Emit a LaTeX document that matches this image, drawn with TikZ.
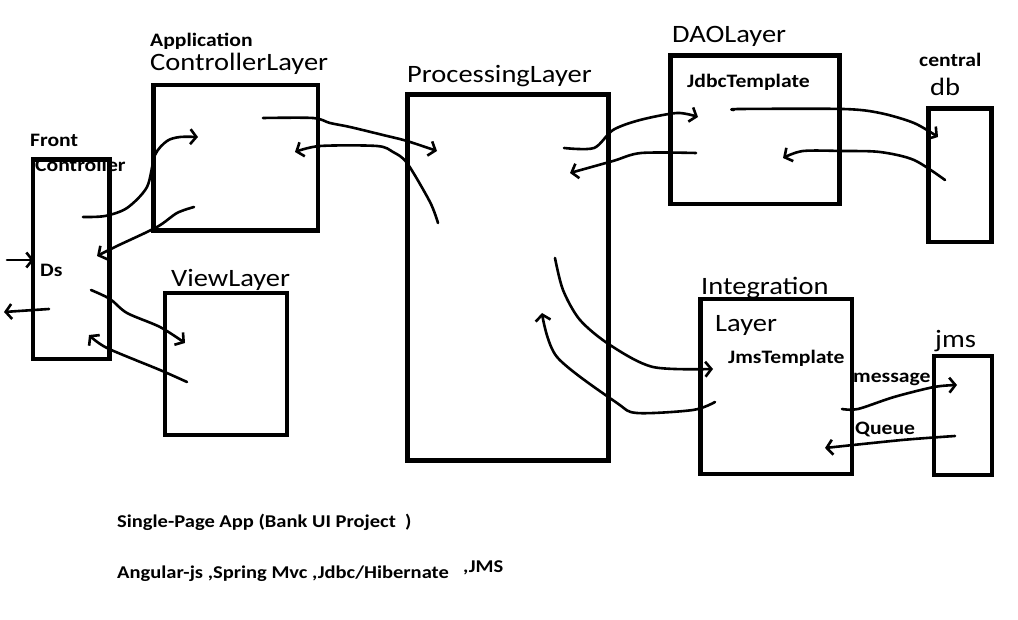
\documentclass[tikz,border=0pt]{standalone}
\usepackage{fontspec}
\setmainfont{Carlito}[FakeStretch=1.14]
\usetikzlibrary{arrows.meta,fit}
\begin{document}
\begin{tikzpicture}[x=1pt,y=-1pt,
  box/.style={draw,line width=4.6pt,inner sep=0pt},
  big/.style={font=\fontsize{25}{29}\selectfont,inner sep=0pt,anchor=base west},
  small/.style={font=\bfseries\fontsize{19}{22}\selectfont,inner sep=0pt,anchor=base west},
  note/.style={font=\bfseries\fontsize{18}{21}\selectfont,inner sep=0pt,anchor=base west},
  conn/.style={line width=2.6pt,line cap=round,line join=round,-{Straight Barb[length=6pt,width=15pt]}}]
\useasboundingbox[fill=white] (0,0) rectangle (1018,620);

% boxes
\node[box,fit={(33,159.5) (109.5,359)}] (fc) {};
\node[box,fit={(153.5,85) (318,230.5)}] (acl) {};
\node[box,fit={(165,293) (287,435)}] (view) {};
\node[box,fit={(407.5,94.5) (608.5,460.5)}] (proc) {};
\node[box,fit={(670.5,55.5) (839.5,204)}] (dao) {};
\node[box,fit={(928.5,108.3) (991.5,242)}] (db) {};
\node[box,fit={(700.7,299) (852,474)}] (integ) {};
\node[box,fit={(934,356) (992,475)}] (jms) {};

% labels
\node[small] (lApp) at (150,47) {Application};
\node[big] (lCtl) at (150,71) {ControllerLayer};
\node[small] (lFront) at (30,147) {Front};
\node[small] (lFC) at (35,172) {Controller};
\node[small] (lDs) at (40,277) {Ds};
\node[big] (lView) at (171,287) {ViewLayer};
\node[big] (lProc) at (407,83) {ProcessingLayer};
\node[big] (lDao) at (672,43) {DAOLayer};
\node[small] (lJdbc) at (687,88) {JdbcTemplate};
\node[small] (lCentral) at (919,67) {central};
\node[big] (lDb) at (930,96) {db};
\node[big] (lInt) at (701,295) {Integration};
\node[big] (lLayer) at (715,332) {Layer};
\node[small] (lJmsT) at (728,363) {JmsTemplate};
\node[small] (lMsg) at (853,383) {message};
\node[small] (lQueue) at (855,435) {Queue};
\node[big] (lJms) at (935,348) {jms};
\node[note] (lSpa) at (117,527) {Single-Page App (Bank UI Project\ \ )};
\node[note] (lTech) at (117,578) {Angular-js ,Spring Mvc ,Jdbc/Hibernate};
\node[note] (lJMS) at (463,572) {,JMS};

% connector end points
\coordinate (a1s) at (83,217);   \coordinate (a1e) at (198,137);
\coordinate (a2s) at (194,207);  \coordinate (a2e) at (97,256);
\coordinate (a3s) at (91,290);   \coordinate (a3e) at (185,343);
\coordinate (a4s) at (187,382);  \coordinate (a4e) at (89,335);
\coordinate (a5s) at (7,260);    \coordinate (a5e) at (34,260);
\coordinate (a6s) at (49,309);   \coordinate (a6e) at (4,312);
\coordinate (a7s) at (263,118);  \coordinate (a7e) at (437,151);
\coordinate (a8s) at (438,223);  \coordinate (a8e) at (295,152);
\coordinate (a9s) at (564,148);  \coordinate (a9e) at (698,117);
\coordinate (a10s) at (696,153); \coordinate (a10e) at (570,173);
\coordinate (a11s) at (734,110); \coordinate (a11e) at (938,137);
\coordinate (a12s) at (945,180); \coordinate (a12e) at (783,158);
\coordinate (a13s) at (555,258); \coordinate (a13e) at (713,369);
\coordinate (a14s) at (715,402); \coordinate (a14e) at (542,313);
\coordinate (a15s) at (842,409); \coordinate (a15e) at (957,385);
\coordinate (a16s) at (955,436); \coordinate (a16e) at (825,448);

% connectors
\draw[conn] plot[smooth,tension=0.5] coordinates {(a1s) (105,216) (127,208) (147,187) (155,155) (167,141) (180,137) (a1e)};
\draw[conn] plot[smooth,tension=0.5] coordinates {(a2s) (177,213) (157,227) (117,246) (a2e)};
\draw[conn] plot[smooth,tension=0.5] coordinates {(a3s) (110,299) (127,313) (160,327) (a3e)};
\draw[conn] plot[smooth,tension=0.5] coordinates {(a4s) (160,370) (107,348) (a4e)};
\draw[conn] (a5s) -- (a5e);
\draw[conn] (a6s) -- (a6e);
\draw[conn] plot[smooth,tension=0.5] coordinates {(a7s) (313,118) (330,123) (350,127) (383,135) (407,141) (a7e)};
\draw[conn] plot[smooth,tension=0.5] coordinates {(a8s) (430,202) (407,163) (393,152) (377,146) (320,146) (a8e)};
\draw[conn] plot[smooth,tension=0.5] coordinates {(a9s) (594,148) (613,130) (640,120) (677,113) (a9e)};
\draw[conn] plot[smooth,tension=0.5] coordinates {(a10s) (641,153) (613,161) (a10e)};
\draw[conn] plot[smooth,tension=0.5] coordinates {(a11s) (740,109) (843,109) (880,113) (914,123) (a11e)};
\draw[conn] plot[smooth,tension=0.5] coordinates {(a12s) (914,160) (880,152) (843,151) (803,151) (a12e)};
\draw[conn] plot[smooth,tension=0.5] coordinates {(a13s) (563,290) (580,320) (610,345) (653,367) (a13e)};
\draw[conn] plot[smooth,tension=0.5] coordinates {(a14s) (693,410) (637,413) (617,403) (557,357) (a14e)};
\draw[conn] plot[smooth,tension=0.5] coordinates {(a15s) (858,409) (894,397) (934,387) (a15e)};
\draw[conn] plot[smooth,tension=0.5] coordinates {(a16s) (902,440) (a16e)};
\end{tikzpicture}
\end{document}
